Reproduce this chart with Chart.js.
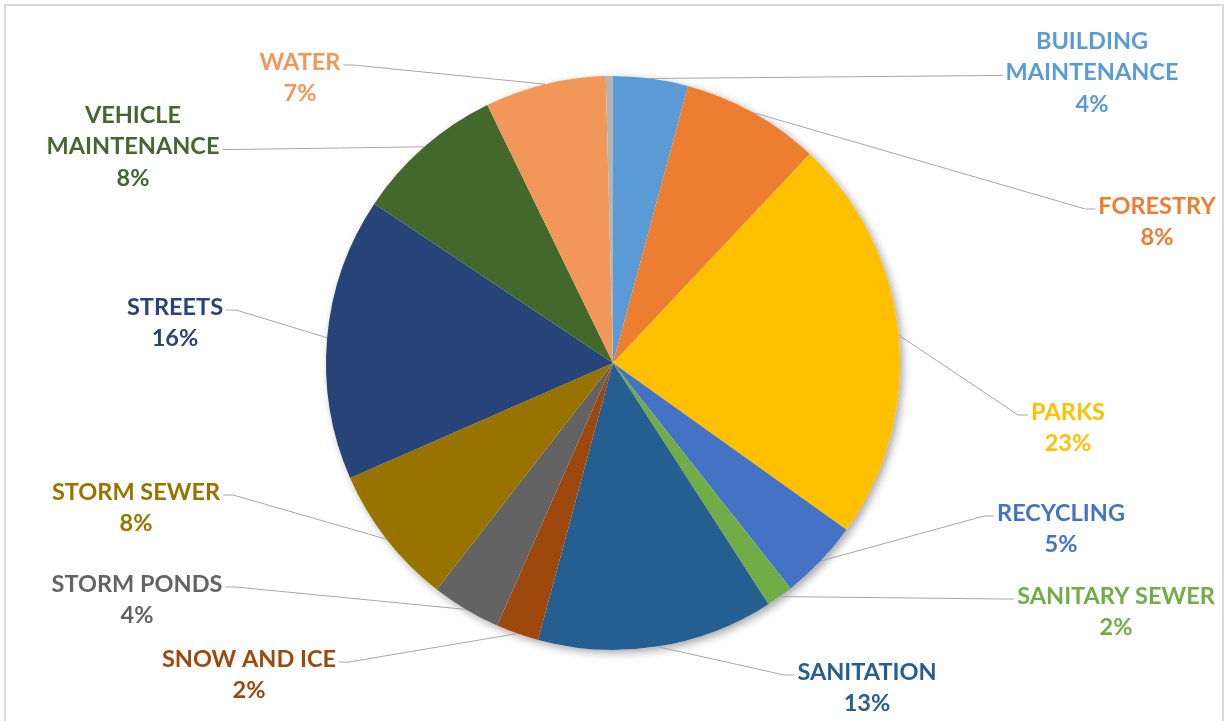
<!DOCTYPE html>
<html>
<head>
<meta charset="utf-8">
<script src="https://cdn.jsdelivr.net/npm/chart.js@4/dist/chart.umd.min.js"></script>
<style>
  html, body { margin: 0; background: #fff; }
  canvas { display: block; }
</style>
</head>
<body>
<canvas id="chart" width="1225" height="721"></canvas>
<script>
// slices clockwise from 12 o'clock
const categories = [
  ['BUILDING', 'MAINTENANCE'], ['FORESTRY'], ['PARKS'], ['RECYCLING'],
  ['SANITARY SEWER'], ['SANITATION'], ['SNOW AND ICE'], ['STORM PONDS'],
  ['STORM SEWER'], ['STREETS'], ['VEHICLE', 'MAINTENANCE'], ['WATER'], []
];
const shares = [4.2, 7.8, 22.8, 4.5, 1.5, 13.3, 2.4, 3.9, 7.9, 15.9, 8.4, 6.8, 0.4];

const colors = [
  '#5B9BD5', '#ED7D31', '#FFC000', '#4472C4', '#70AD47', '#255E91',
  '#9E480E', '#636363', '#997300', '#264478', '#43682B', '#F1975A', '#B4B4B4'
];

// label block placement: centre x, centre y of first line
const labelPos = [
  { x: 1092, y: 41 }, { x: 1157, y: 206 }, { x: 1068, y: 412 }, { x: 1061, y: 513 },
  { x: 1116, y: 596 }, { x: 867, y: 672 }, { x: 249, y: 659 }, { x: 137, y: 584 },
  { x: 136, y: 492 }, { x: 175, y: 307 }, { x: 133, y: 115 }, { x: 300, y: 62 }, null
];
const FONT = 'bold 23.5px Lato';
const LINE = 31.5;

const frame = {
  id: 'frame',
  beforeDraw(chart) {
    const ctx = chart.ctx;
    ctx.save();
    ctx.strokeStyle = '#D9D9D9';
    ctx.lineWidth = 2;
    ctx.strokeRect(5, 5, 1218, 730);
    ctx.restore();
  }
};

const outsideLabels = {
  id: 'outsideLabels',
  beforeDatasetsDraw(chart) {
    // soft shadow under the whole pie
    const arc = chart.getDatasetMeta(0).data[0];
    const ctx = chart.ctx;
    ctx.save();
    ctx.shadowColor = 'rgba(0,0,0,0.35)';
    ctx.shadowBlur = 9;
    ctx.shadowOffsetX = 3;
    ctx.shadowOffsetY = 3;
    ctx.fillStyle = '#fff';
    ctx.beginPath();
    ctx.arc(arc.x, arc.y, arc.outerRadius, 0, Math.PI * 2);
    ctx.fill();
    ctx.restore();
  },
  afterDatasetsDraw(chart) {
    const ctx = chart.ctx;
    const meta = chart.getDatasetMeta(0);
    const total = shares.reduce((a, b) => a + b, 0);
    ctx.save();
    ctx.font = FONT;
    ctx.textAlign = 'center';
    ctx.textBaseline = 'middle';
    meta.data.forEach((arc, i) => {
      const pos = labelPos[i];
      if (!pos) return;
      const name = categories[i];
      const lines = [...name, Math.round(shares[i] / total * 100) + '%'];
      const mid = (arc.startAngle + arc.endAngle) / 2;
      const px = arc.x + Math.cos(mid) * arc.outerRadius;
      const py = arc.y + Math.sin(mid) * arc.outerRadius;
      const k = name.length - 1;
      const ay = pos.y + k * LINE + 3;
      const w = ctx.measureText(name[k]).width;
      const right = pos.x > arc.x;
      const ex = right ? pos.x - w / 2 - 3 : pos.x + w / 2 + 3;
      const sx = right ? ex - 10 : ex + 10;

      ctx.strokeStyle = '#A6A6A6';
      ctx.lineWidth = 1;
      ctx.beginPath();
      ctx.moveTo(px, py);
      ctx.lineTo(sx, ay);
      ctx.lineTo(ex, ay);
      ctx.stroke();

      ctx.fillStyle = colors[i];
      lines.forEach((t, j) => ctx.fillText(t, pos.x, pos.y + j * LINE));
    });
    ctx.restore();
  }
};

function draw() {
  new Chart(document.getElementById('chart'), {
    type: 'pie',
    data: {
      labels: categories,
      datasets: [{
        data: shares,
        backgroundColor: colors,
        borderWidth: 0
      }]
    },
    options: {
      responsive: false,
      animation: false,
      layout: { padding: { top: 76, bottom: 71, left: 326, right: 325 } },
      plugins: {
        legend: { display: false },
        tooltip: { enabled: false }
      }
    },
    plugins: [frame, outsideLabels]
  });
}

document.fonts.load(FONT).then(draw, draw);
</script>
</body>
</html>
